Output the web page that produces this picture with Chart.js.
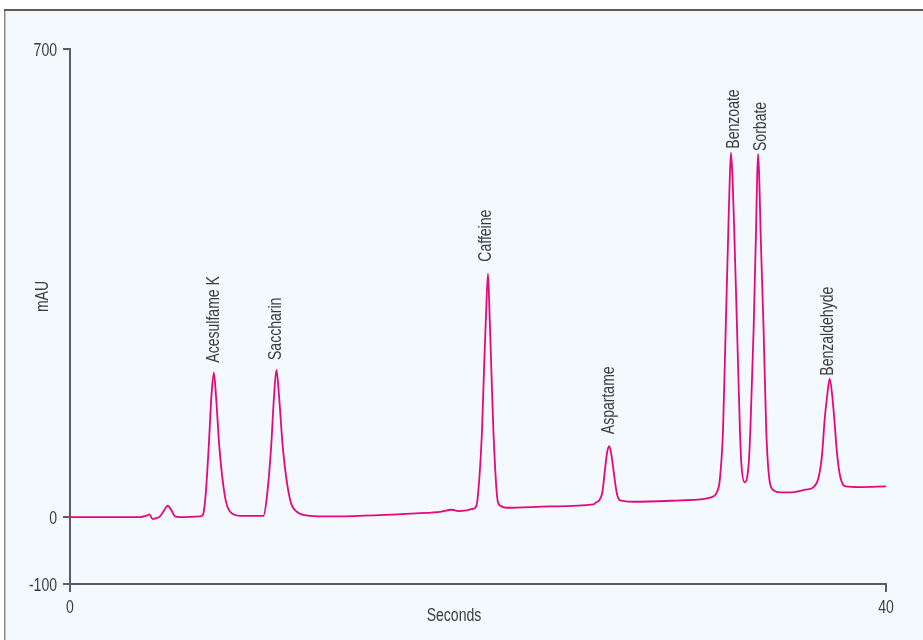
<!DOCTYPE html>
<html>
<head>
<meta charset="utf-8">
<title>Chromatogram</title>
<script src="https://cdn.jsdelivr.net/npm/chart.js@4.4.1/dist/chart.umd.min.js"></script>
<style>
  html, body { margin: 0; padding: 0; background: #fff; }
  #wrap { position: relative; width: 923px; height: 640px; }
</style>
</head>
<body>
<div id="wrap"><canvas id="chromatogram"></canvas></div>
<script>
// trace (time in s, absorbance in mAU)
const seconds = [
  0.00, 3.43, 3.73, 3.89, 4.06, 4.22, 4.41, 4.61, 4.79, 4.98, 5.15, 5.39, 6.38,
  6.51, 6.64, 6.80, 6.93, 7.05, 7.16, 7.32, 7.60, 7.85, 8.34,
  9.48, 9.65, 9.86, 10.00, 10.12, 10.25, 10.43, 10.76, 11.12, 11.77,
  12.75, 17.17, 18.15, 18.72, 19.03, 19.42, 19.67,
  19.86, 19.97, 20.19, 20.30, 20.39, 20.49, 20.57, 20.65, 20.76, 20.96, 21.09, 21.42,
  23.54, 25.66,
  25.75, 26.08, 26.24, 26.32, 26.43, 26.53, 26.62, 26.81, 26.97, 27.63,
  29.92, 31.47,
  31.72, 31.85, 32.01, 32.14, 32.27, 32.34, 32.40, 32.48, 32.56, 32.70, 32.84, 32.91,
  33.07, 33.27, 33.35, 33.51, 33.63, 33.68, 33.73, 33.79, 33.85, 34.00, 34.13, 34.29,
  34.49, 34.82, 35.31, 36.05,
  36.45, 36.70, 36.87, 36.99, 37.11, 37.24, 37.37, 37.47, 37.60, 37.76, 38.01,
  38.75, 40.00
];
const mAU = [
  0, 0, 2, 4, -3, -1.5, 1, 10, 17, 10, 1, 0, 1,
  3, 30, 105, 180, 216, 180, 105, 30, 8, 2,
  2, 30, 105, 180, 220, 180, 105, 30, 8, 2,
  1, 6, 8, 11, 9, 10, 12,
  14, 25, 125, 225, 300, 364, 300, 225, 125, 25, 17, 14,
  16, 19,
  21, 35, 75, 95, 106, 95, 75, 35, 25, 23,
  25, 30,
  38, 55, 130, 280, 429, 504, 545, 504, 429, 280, 130, 80,
  52, 80, 130, 280, 429, 504, 543, 504, 429, 280, 130, 55,
  40, 37, 37, 41,
  45, 60, 95, 145, 180, 207, 180, 145, 95, 60, 46,
  45, 46
];

const peakNames = ['Acesulfame K', 'Saccharin', 'Caffeine', 'Aspartame', 'Benzoate', 'Sorbate', 'Benzaldehyde'];
const peakSeconds = [7.05, 10.12, 20.49, 26.43, 32.40, 33.73, 37.24];
const peakHeights = [216, 220, 364, 106, 545, 543, 207];

const xTicks = [0, 40];
const yTicks = [-100, 0, 700];

const FONT = '18px "Liberation Sans", Arial, sans-serif';
const SQUEEZE = 0.78;   // condensed look
const TEXT = '#3c3c3c';
const AXIS = '#5c5c5c';
const TRACE = '#e4087f';

// per label nudges: [baseline offset right of peak px, gap above peak px]
const labelNudge = [[5, 10], [5, 10], [3, 12], [5, 12], [8, 4], [8, 3], [3, 3]];

function condensedText(c, str, x, y, align, upright) {
  c.save();
  c.translate(x, y);
  if (upright) c.rotate(-Math.PI / 2);
  c.scale(SQUEEZE, 1);
  c.textAlign = align;
  c.textBaseline = 'alphabetic';
  c.fillText(str, 0, 0);
  c.restore();
}

const framePlugin = {
  id: 'frame',
  beforeDraw(chart) {
    const c = chart.ctx;
    c.save();
    c.fillStyle = '#ffffff';
    c.fillRect(0, 0, chart.width, chart.height);
    c.fillStyle = '#f3f9fc';
    c.fillRect(5, 10, chart.width - 5, chart.height - 10);
    c.strokeStyle = '#8a8a8a';
    c.lineWidth = 1.5;
    c.beginPath();
    c.moveTo(4.75, 10);
    c.lineTo(4.75, chart.height);
    c.stroke();
    c.strokeStyle = '#5a5a5a';
    c.lineWidth = 2;
    c.beginPath();
    c.moveTo(4, 10);
    c.lineTo(chart.width, 10);
    c.stroke();
    c.restore();
  }
};

const textPlugin = {
  id: 'chromText',
  afterDatasetsDraw(chart) {
    const c = chart.ctx;
    const xs = chart.scales.x, ys = chart.scales.y;
    const area = chart.chartArea;
    c.save();
    c.fillStyle = TEXT;
    c.font = FONT;

    peakNames.forEach((name, i) => {
      const px = xs.getPixelForValue(peakSeconds[i]) + labelNudge[i][0];
      const py = ys.getPixelForValue(peakHeights[i]) - labelNudge[i][1];
      condensedText(c, name, px, py, 'left', true);
    });

    // tick labels
    yTicks.forEach(v => {
      condensedText(c, String(v), area.left - 13, ys.getPixelForValue(v) + 6.5, 'right', false);
    });
    xTicks.forEach(v => {
      condensedText(c, String(v), xs.getPixelForValue(v), area.bottom + 29, 'center', false);
    });

    // axis titles
    condensedText(c, 'Seconds', (area.left + area.right) / 2 - 24, area.bottom + 36.5, 'center', false);
    condensedText(c, 'mAU', area.left - 22, (area.top + area.bottom) / 2 - 20, 'center', true);
    c.restore();
  }
};

const ctx = document.getElementById('chromatogram').getContext('2d');
new Chart(ctx, {
  type: 'line',
  data: {
    datasets: [{
      data: seconds.map((s, i) => ({ x: s, y: mAU[i] })),
      borderColor: TRACE,
      borderWidth: 1.8,
      pointRadius: 0,
      fill: false,
      cubicInterpolationMode: 'monotone'
    }]
  },
  options: {
    responsive: true,
    maintainAspectRatio: false,
    animation: false,
    layout: { padding: { top: 49, right: 37, left: 0, bottom: 0 } },
    plugins: { legend: { display: false }, tooltip: { enabled: false } },
    scales: {
      x: {
        type: 'linear',
        min: 0,
        max: 40,
        afterBuildTicks: scale => { scale.ticks = xTicks.map(v => ({ value: v })); },
        afterFit: scale => { scale.height = 56; },
        grid: { drawOnChartArea: false, color: AXIS, lineWidth: 2, tickLength: 8 },
        border: { color: AXIS, width: 2 },
        ticks: { display: false }
      },
      y: {
        min: -100,
        max: 700,
        afterBuildTicks: scale => { scale.ticks = yTicks.map(v => ({ value: v })); },
        afterFit: scale => { scale.width = 70; },
        grid: { drawOnChartArea: false, color: AXIS, lineWidth: 2, tickLength: 7 },
        border: { color: AXIS, width: 2 },
        ticks: { display: false }
      }
    }
  },
  plugins: [framePlugin, textPlugin]
});
</script>
</body>
</html>
